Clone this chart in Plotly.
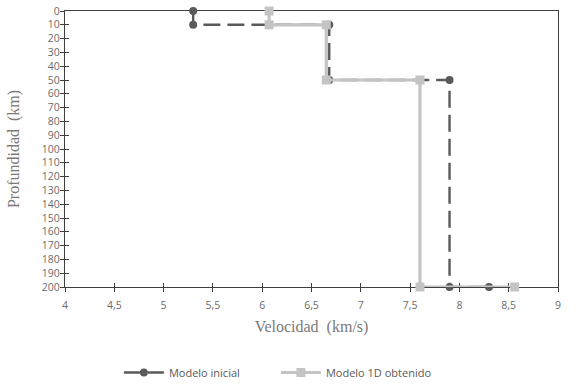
import plotly.graph_objects as go

# Data
inicial_vel = [5.3, 5.3, 6.68, 6.68, 7.9, 7.9, 8.3]
inicial_prof = [0, 10, 10, 50, 50, 200, 200]
obtenido_vel = [6.07, 6.07, 6.65, 6.65, 7.6, 7.6, 8.56]
obtenido_prof = [0, 10, 10, 50, 50, 200, 200]
x_ticks = [4, 4.5, 5, 5.5, 6, 6.5, 7, 7.5, 8, 8.5, 9]
y_ticks = list(range(0, 201, 10))

dark = "#5a5a5a"
light = "#c4c4c4"
axis_col = "#3f3f3f"
tick_font = dict(family="Open Sans, sans-serif", size=10.5, color="#6b6b6b")

fig = go.Figure()
fig.add_trace(go.Scatter(
    x=inicial_vel, y=inicial_prof, mode="lines+markers", name="Modelo inicial",
    line=dict(color=dark, width=2.4, dash="17px,7px"),
    marker=dict(symbol="circle", size=8, color=dark),
    cliponaxis=False,
))
fig.add_trace(go.Scatter(
    x=obtenido_vel, y=obtenido_prof, mode="lines+markers", name="Modelo 1D obtenido",
    line=dict(color=light, width=3.2),
    marker=dict(symbol="square", size=9, color=light),
    cliponaxis=False,
))
# invisible helper trace for the overlay axes (outer half of crossing ticks)
fig.add_trace(go.Scatter(x=[x_ticks[0]], y=[y_ticks[0]], xaxis="x2", yaxis="y2",
                         mode="markers", marker=dict(opacity=0), showlegend=False,
                         hoverinfo="skip"))

fig.update_layout(
    width=580, height=386,
    margin=dict(l=65, r=22, t=11, b=99, autoexpand=False),
    paper_bgcolor="white", plot_bgcolor="white",
    separators=",.",
    showlegend=True,
    legend=dict(orientation="h", x=0.205, xref="container", xanchor="left",
                y=0.035, yref="container", yanchor="middle",
                font=dict(family="Open Sans, sans-serif", size=11, color="#595959"),
                itemwidth=40, entrywidth=102, tracegroupgap=0),
    xaxis=dict(range=[4, 9], tickvals=x_ticks, ticks="inside", ticklen=4,
               tickcolor=axis_col, tickwidth=1, showgrid=False, zeroline=False,
               showline=True, linecolor=axis_col, linewidth=1.3, mirror=True,
               tickfont=tick_font, layer="below traces", automargin=False,
               ticklabelstandoff=8,
               title=dict(text="Velocidad  (km/s)",
                          font=dict(family="Liberation Serif, serif", size=16, color="#7a7a7a"),
                          standoff=10)),
    yaxis=dict(range=[200, 0], tickvals=y_ticks, ticks="inside", ticklen=4,
               tickcolor=axis_col, tickwidth=1, showgrid=False, zeroline=False,
               showline=True, linecolor=axis_col, linewidth=1.3, mirror=True,
               tickfont=tick_font, layer="below traces", automargin=False,
               ticklabelstandoff=2,
               title=dict(text="Profundidad  (km)",
                          font=dict(family="Liberation Serif, serif", size=16, color="#7a7a7a"),
                          standoff=18)),
    xaxis2=dict(range=[4, 9], tickvals=x_ticks, ticks="outside", ticklen=4,
                tickcolor=axis_col, showticklabels=False, showgrid=False,
                zeroline=False, overlaying="x", side="bottom", layer="below traces",
                automargin=False),
    yaxis2=dict(range=[200, 0], tickvals=y_ticks, ticks="outside", ticklen=4,
                tickcolor=axis_col, showticklabels=False, showgrid=False,
                zeroline=False, overlaying="y", side="left", layer="below traces",
                automargin=False),
)

fig.write_html("out.html", config={"displayModeBar": False},
               post_script="document.body.style.margin='0';document.body.style.padding='0';")
